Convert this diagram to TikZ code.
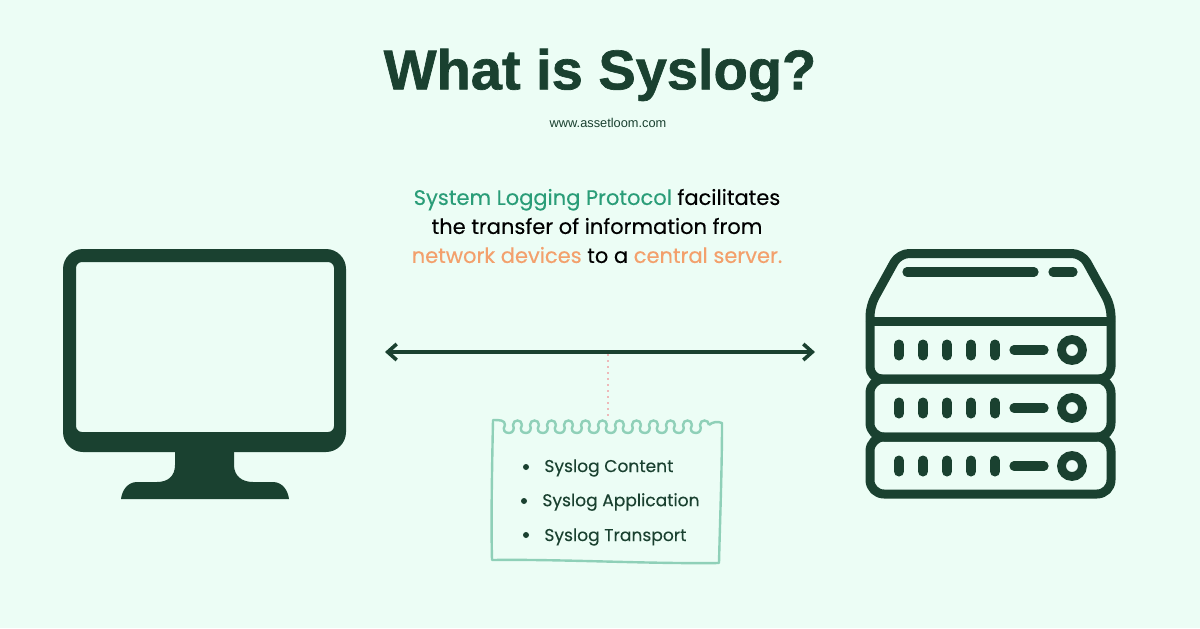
\documentclass[tikz,border=0pt]{standalone}
\usepackage{xcolor}
\usepackage{fontspec}
\setmainfont[FakeBold=0.2]{Poppins}
\newfontfamily\titlefont[BoldFeatures={FakeBold=1.2}]{Liberation Sans}
\usepackage{tikz}
\usetikzlibrary{arrows.meta}
\begin{document}
\begin{tikzpicture}[x=0.5pt,y=-0.5pt,
		icon/.style={draw=mydark,line width=4.5pt,line join=round},
		notch/.style={draw=mydark,line width=4.6pt,line cap=round},
		notetext/.style={anchor=west,inner sep=0pt,text=mydark,font=\fontsize{8.55}{11}\selectfont},
		bullet/.style={circle,fill=mydark,inner sep=0pt,minimum size=3pt}]
				% colours
				\definecolor{mybg}{RGB}{236,253,245}
				\definecolor{mydark}{RGB}{26,65,48}
				\definecolor{mygreen}{RGB}{42,157,120}
				\definecolor{myorange}{RGB}{243,160,108}
				\definecolor{mynote}{RGB}{143,208,184}
				\definecolor{mypink}{RGB}{238,185,185}
				
				% background
				\fill[mybg] (0,0) rectangle (1200,628);
				\useasboundingbox (0,0) rectangle (1200,628);
				
				% heading
				\node[text=mydark,font=\titlefont\bfseries\fontsize{28}{32}\selectfont] (title) at (600,75) {What is Syslog?};
				\node[text=mydark,font=\titlefont\fontsize{6.4}{8}\selectfont] (site) at (608,122.5) {www.assetloom.com};
				
				% intro text
				\node[align=center,font=\fontsize{10.5}{14.5}\selectfont] (intro) at (597,226) {\textcolor{mygreen}{System Logging Protocol} facilitates\\the transfer of information from\\\textcolor{myorange}{network devices} to a \textcolor{myorange}{central server.}};
				
				% monitor
				\fill[mydark,even odd rule,rounded corners=10pt] (63,249) rectangle (346,452)
					[rounded corners=3pt] (76,262) rectangle (334,432);
				\fill[mydark] (175,450) -- (175,465) .. controls (175,476) and (168,482) .. (157,482)
					-- (137,482) .. controls (128,482) and (122,490) .. (121,499)
					-- (289,499) .. controls (288,490) and (282,482) .. (273,482)
					-- (253,482) .. controls (242,482) and (234,476) .. (234,465) -- (234,450) -- cycle;
				
				% server
				\draw[icon,rounded corners=5pt] (870,321) -- (870,306) -- (899,253.5) -- (1082,253.5) -- (1111,306) -- (1111,321);
				\draw[icon] (870,321) -- (1111,321);
				\draw[icon,rounded corners=6pt] (870,321) -- (870,379) -- (1111,379) -- (1111,321);
				\draw[icon,rounded corners=7pt] (870,379) rectangle (1111,437);
				\draw[icon,rounded corners=7pt] (870,437) rectangle (1111,494);
				\draw[notch] (907,272) -- (1034,272);
				\draw[notch] (1053,272) -- (1073,272);
				\foreach \y in {350,408,466}{
					\foreach \x in {899,923,947,971,995}
					\draw[notch,line width=5pt] (\x,\y-5.5) -- (\x,\y+5.5);
					\draw[notch] (1014,\y) -- (1044,\y);
					\draw[draw=mydark,line width=4.4pt] (1072,\y) circle (10.5);
				}
				
				% arrow between the two machines
				\coordinate (linkl) at (385,352);
				\coordinate (linkr) at (815,352);
				\coordinate (linkm) at (608,354);
				\coordinate (notetop) at (608,420);
				\draw[mydark,line width=1.8pt,{Straight Barb[length=4.5pt,width=8pt]}-{Straight Barb[length=4.5pt,width=8pt]}] (linkl) -- (linkr);
				\draw[mypink,line width=1pt,dotted] (linkm) -- (notetop);
				
				% note
				\draw[mynote,line width=1.2pt,line join=round] (505,425) .. controls (505,420) and (500,420) .. (493,420)
					.. controls (492,470) and (491,520) .. (492,560)
					.. controls (560,559) and (650,564) .. (719,563)
					.. controls (720,520) and (722,470) .. (722,423)
					.. controls (718,421) and (712,422) .. (709,425);
				\foreach \x in {505,522,...,692}{
					\draw[mynote,line width=1.2pt] (\x,425) .. controls (\x-3,430) and (\x,433) .. (\x+4,433)
						.. controls (\x+8,433) and (\x+10,429) .. (\x+8,425)
						.. controls (\x+8,419) and (\x+17,419) .. (\x+17,425);
				}
				\node[bullet] (bula) at (526,467) {};
				\node[bullet] (bulb) at (524,501) {};
				\node[bullet] (bulc) at (526,535) {};
				\node[notetext] (conta) at (544,468) {Syslog Content};
				\node[notetext] (contb) at (542,502) {Syslog Application};
				\node[notetext] (contc) at (544,537) {Syslog Transport};
				
\end{tikzpicture}
\end{document}
